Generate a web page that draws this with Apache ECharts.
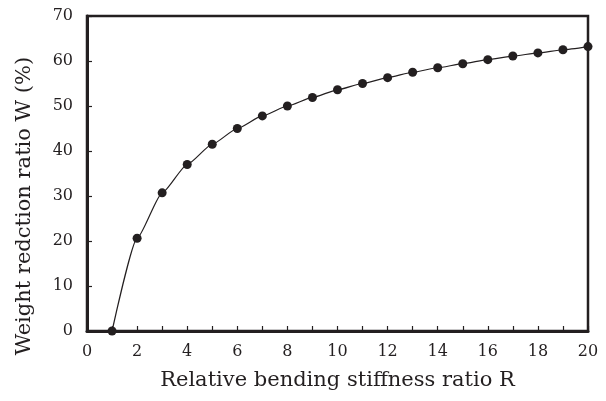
<!DOCTYPE html>
<html>
<head>
<meta charset="utf-8">
<script src="https://cdn.jsdelivr.net/npm/echarts@6/dist/echarts.min.js"></script>
<style>
  html, body { margin: 0; padding: 0; background: #fff; }
  #chart { width: 606px; height: 401px; }
</style>
</head>
<body>
<div id="chart"></div>
<script>
// Relative bending stiffness ratio R
const ratioR = [1, 2, 3, 4, 5, 6, 7, 8, 9, 10, 11, 12, 13, 14, 15, 16, 17, 18, 19, 20];
// Weight reduction ratio W (%)
const weightW = [0, 20.6, 30.7, 37.0, 41.5, 45.0, 47.8, 50.0, 51.9, 53.6,
                 55.0, 56.3, 57.5, 58.5, 59.4, 60.3, 61.1, 61.8, 62.5, 63.2];

const xTitle = 'Relative bending stiffness ratio R';
const yTitle = 'Weight redction ratio W (%)';

const ink = '#231f20';
const tickFont = { fontFamily: 'DejaVu Serif', fontSize: 16, color: ink };

const chart = echarts.init(document.getElementById('chart'), null, { renderer: 'canvas' });
chart.setOption({
  backgroundColor: '#fff',
  animation: false,
  grid: { left: 87, right: 18, top: 16, bottom: 70, show: true, borderColor: ink, borderWidth: 2.5 },
  xAxis: {
    type: 'value', min: 0, max: 20, interval: 1,
    axisLine: { lineStyle: { color: ink, width: 3 } },
    axisTick: { inside: true, length: 5, lineStyle: { color: ink, width: 1.2 } },
    axisLabel: Object.assign({ margin: 13, formatter: v => (v % 2 === 0 ? String(v) : '') }, tickFont),
    splitLine: { show: false },
    name: xTitle, nameLocation: 'middle', nameGap: 39,
    nameTextStyle: { fontFamily: 'DejaVu Serif', fontSize: 21, color: ink }
  },
  yAxis: {
    type: 'value', min: 0, max: 70, interval: 10,
    axisLine: { lineStyle: { color: ink, width: 3 } },
    axisTick: { inside: true, length: 5, lineStyle: { color: ink, width: 1.2 } },
    axisLabel: Object.assign({ margin: 14 }, tickFont),
    splitLine: { show: false }
  },
  graphic: [{
    type: 'text', x: 25, y: 206, rotation: Math.PI / 2,
    style: {
      text: yTitle, font: '21px "DejaVu Serif"', fill: ink,
      textAlign: 'center', textVerticalAlign: 'middle'
    }
  }],
  series: [{
    type: 'line',
    data: ratioR.map((r, i) => [r, weightW[i]]),
    smooth: 0.18,
    smoothMonotone: 'x',
    symbol: 'circle', symbolSize: 9,
    lineStyle: { color: ink, width: 1.2 },
    itemStyle: { color: ink },
    clip: false
  }]
});
</script>
</body>
</html>
